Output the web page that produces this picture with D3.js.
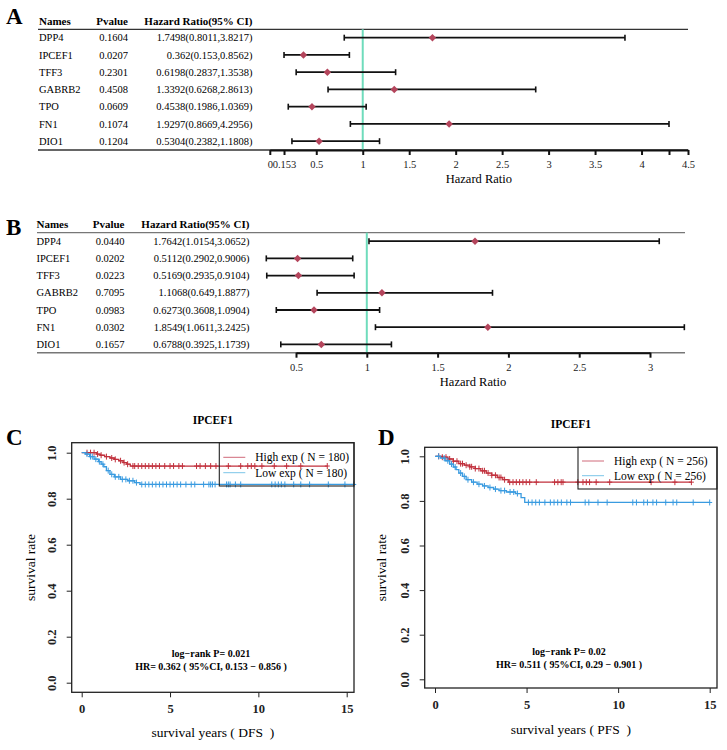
<!DOCTYPE html>
<html><head><meta charset="utf-8">
<script src="https://cdn.jsdelivr.net/npm/d3@7/dist/d3.min.js"></script>
<style>
body{margin:0;background:#fff;}
svg{display:block;font-family:"Liberation Serif","Times New Roman",serif;}
</style></head>
<body><svg id="c" width="727" height="750"></svg>
<script>
// ---------- Data: forest plot A (DFS, univariate) ----------
const genes = ["DPP4","IPCEF1","TFF3","GABRB2","TPO","FN1","DIO1"];
const pvalA = ["0.1604","0.0207","0.2301","0.4508","0.0609","0.1074","0.1204"];
const hrA = [1.7498,0.362,0.6198,1.3392,0.4538,1.9297,0.5304];
const lowA = [0.8011,0.153,0.2837,0.6268,0.1986,0.8669,0.2382];
const upA = [3.8217,0.8562,1.3538,2.8613,1.0369,4.2956,1.1808];
const hrTextA = ["1.7498(0.8011,3.8217)","0.362(0.153,0.8562)","0.6198(0.2837,1.3538)","1.3392(0.6268,2.8613)","0.4538(0.1986,1.0369)","1.9297(0.8669,4.2956)","0.5304(0.2382,1.1808)"];
const ticksA = [0,0.153,0.5,1,1.5,2,2.5,3,3.5,4,4.2956,4.5];
const tickLabelsA = ["0","0.153","0.5","1","1.5","2","2.5","3","3.5","4","","4.5"];
// ---------- Data: forest plot B (PFS) ----------
const pvalB = ["0.0440","0.0202","0.0223","0.7095","0.0983","0.0302","0.1657"];
const hrB = [1.7642,0.5112,0.5169,1.1068,0.6273,1.8549,0.6788];
const lowB = [1.0154,0.2902,0.2935,0.649,0.3608,1.0611,0.3925];
const upB = [3.0652,0.9006,0.9104,1.8877,1.0904,3.2425,1.1739];
const hrTextB = ["1.7642(1.0154,3.0652)","0.5112(0.2902,0.9006)","0.5169(0.2935,0.9104)","1.1068(0.649,1.8877)","0.6273(0.3608,1.0904)","1.8549(1.0611,3.2425)","0.6788(0.3925,1.1739)"];
const ticksB = [0.5,1,1.5,2,2.5,3];
const tickLabelsB = ["0.5","1","1.5","2","2.5","3"];
// ---------- Data: KM C (DFS) ----------
const cHighT = [0,0.85,1.05,1.3,1.6,1.85,2.1,2.35,2.55,2.75];
const cHighS = [1,0.994,0.989,0.983,0.977,0.971,0.965,0.957,0.950,0.942];
const cHighEnd = 13.9;
const cHighCens = [0.3,0.5,0.7,0.9,1.1,1.4,1.7,1.9,2.2,2.4,2.6,2.9,3.0,3.2,3.4,3.6,3.8,4.0,4.2,4.4,4.7,5.0,5.2,5.5,5.7,6.5,6.7,7.0,7.3,7.6,8.3,9.0,9.4,9.6,9.8,10.2,10.9,11.6,12.4,13.9];
const cLowT = [0,0.2,0.45,0.7,0.95,1.1,1.25,1.4,1.6,1.85,2.2,2.6,3.0,3.3];
const cLowS = [1,0.994,0.983,0.972,0.961,0.950,0.939,0.922,0.906,0.895,0.884,0.878,0.870,0.862];
const cLowEnd = 15.4;
const cLowCens = [0.3,0.5,0.6,0.8,1.0,1.2,1.5,1.7,1.9,2.1,2.3,2.5,2.7,2.9,3.1,3.4,3.6,3.8,4.0,4.2,4.4,4.6,4.8,5.0,5.2,5.4,5.6,5.9,6.2,6.4,6.9,7.2,7.3,7.4,7.55,8.2,8.3,8.4,8.7,9.0,10.76,10.95,11.13,11.3,11.5,12.0,12.4,12.9,13.96,14.9,15.4];
// ---------- Data: KM D (PFS) ----------
const dHighT = [0,0.4,0.7,1.0,1.3,1.6,1.9,2.2,2.5,2.8,3.1,3.4,3.7,4.0];
const dHighS = [1,0.996,0.988,0.978,0.967,0.96,0.953,0.945,0.935,0.925,0.915,0.905,0.895,0.884];
const dHighEnd = 14.0;
const dHighCens = [0.2,0.4,0.6,0.8,1.0,1.2,1.4,1.5,1.7,1.9,2.0,2.2,2.4,2.6,2.7,2.9,3.1,3.3,3.5,3.6,3.8,4.08,4.26,4.44,4.62,4.8,4.98,5.17,5.53,6.53,6.71,6.89,6.99,7.8,8.08,8.26,8.44,8.8,9.54,11.8,13.1,14.0];
const dLowT = [0,0.3,0.55,0.8,1.0,1.15,1.3,1.5,1.7,2.0,2.3,2.6,2.9,3.2,3.5,3.9,4.4,4.7,4.9];
const dLowS = [1,0.992,0.98,0.965,0.952,0.94,0.925,0.91,0.895,0.884,0.875,0.867,0.86,0.853,0.846,0.84,0.833,0.815,0.793];
const dLowEnd = 15.0;
const dLowCens = [0.2,0.5,0.7,0.9,1.1,1.4,1.6,1.8,2.1,2.4,2.7,3.0,3.3,3.6,3.8,4.1,4.3,4.5,5.1,5.3,5.5,5.7,6.0,6.3,6.5,6.7,6.9,7.2,7.4,8.2,8.4,8.9,9.4,10.8,11.0,11.4,11.6,11.9,12.1,12.6,13.0,13.2,14.1,15.0];
const survTicks = [0,0.2,0.4,0.6,0.8,1.0];
const yearTicks = [0,5,10,15];

const svg = d3.select("#c");
const RED = "#c1303c", BLUE = "#3a9be0", DIAM = "#b4455c", GREEN = "#6fdcbc";

function forest(o){
  const g = svg.append("g");
  const x = d3.scaleLinear().domain(o.domain).range(o.range);
  // header
  g.append("text").attr("x",o.colName).attr("y",o.headY).attr("dy","0.35em").attr("font-weight","bold").attr("font-size",11).text("Names");
  g.append("text").attr("x",o.colP).attr("y",o.headY).attr("dy","0.35em").attr("text-anchor","end").attr("font-weight","bold").attr("font-size",11).text("Pvalue");
  g.append("text").attr("x",o.colHR).attr("y",o.headY).attr("dy","0.35em").attr("text-anchor","end").attr("font-weight","bold").attr("font-size",11).text("Hazard Ratio(95% CI)");
  // lines
  g.append("line").attr("x1",o.lineL).attr("x2",o.lineR).attr("y1",o.topY).attr("y2",o.topY).attr("stroke",o.lineCol).attr("stroke-width",1.3);
  g.append("line").attr("x1",o.lineL).attr("x2",o.lineR).attr("y1",o.botY).attr("y2",o.botY).attr("stroke",o.lineCol).attr("stroke-width",1.6);
  // reference line
  g.append("line").attr("x1",x(1)).attr("x2",x(1)).attr("y1",o.topY).attr("y2",o.botY).attr("stroke",GREEN).attr("stroke-width",2);
  const rows = g.selectAll("g.row").data(genes.map((n,i)=>({n,i}))).join("g").attr("transform",d=>`translate(0,${o.row0+d.i*o.step})`);
  rows.append("text").attr("x",o.colName).attr("dy","0.35em").attr("font-size",10.5).text(d=>d.n);
  rows.append("text").attr("x",o.colP).attr("dy","0.35em").attr("text-anchor","end").attr("font-size",10.5).text(d=>o.pv[d.i]);
  rows.append("text").attr("x",o.colHR).attr("dy","0.35em").attr("text-anchor","end").attr("font-size",10.5).text(d=>o.txt[d.i]);
  rows.append("line").attr("x1",d=>x(o.lo[d.i])).attr("x2",d=>x(o.up[d.i])).attr("stroke","#111").attr("stroke-width",1.8);
  rows.append("line").attr("x1",d=>x(o.lo[d.i])).attr("x2",d=>x(o.lo[d.i])).attr("y1",-3).attr("y2",3).attr("stroke","#111").attr("stroke-width",1.6);
  rows.append("line").attr("x1",d=>x(o.up[d.i])).attr("x2",d=>x(o.up[d.i])).attr("y1",-3).attr("y2",3).attr("stroke","#111").attr("stroke-width",1.6);
  rows.append("path").attr("d",d3.symbol(d3.symbolSquare,28)()).attr("fill",DIAM)
    .attr("transform",d=>`translate(${x(o.hr[d.i])},0) rotate(45)`);
  // axis
  const ax = d3.axisBottom(x).tickValues(o.ticks).tickSize(5).tickSizeOuter(0).tickPadding(6)
    .tickFormat((d,i)=>o.tickLabels[i]);
  const ag = g.append("g").attr("transform",`translate(0,${o.botY})`).call(ax);
  ag.select(".domain").attr("stroke","#111").attr("stroke-width",2);
  ag.selectAll(".tick line").attr("stroke","#111").attr("stroke-width",2);
  ag.selectAll(".tick text").attr("font-family","Liberation Serif, serif").attr("font-size",10.5).attr("fill","#222");
  g.append("text").attr("x",(o.range[0]+o.range[1])/2).attr("y",o.labY).attr("text-anchor","middle").attr("font-size",12.5).text("Hazard Ratio");
}

forest({domain:[0,4.5],range:[269.8,688],colName:39,colP:128,colHR:252.5,headY:21,topY:29.3,botY:150,lineL:38,lineR:688,lineCol:"#333",
  row0:37.7,step:17.25,pv:pvalA,txt:hrTextA,hr:hrA,lo:lowA,up:upA,ticks:ticksA,tickLabels:tickLabelsA,labY:183});
forest({domain:[0.5,3],range:[296,650],colName:36.5,colP:124.5,colHR:249.5,headY:224,topY:232.7,botY:352.7,lineL:37,lineR:685,lineCol:"#777",
  row0:241.2,step:17.2,pv:pvalB,txt:hrTextB,hr:hrB,lo:lowB,up:upB,ticks:ticksB,tickLabels:tickLabelsB,labY:386});

function km(o){
  const g = svg.append("g");
  const x = d3.scaleLinear().domain([0,15]).range(o.xr);
  const y = d3.scaleLinear().domain([0,1]).range(o.yr);
  const cx = (o.box[0]+o.box[2])/2;
  g.append("text").attr("x",cx).attr("y",o.titleY).attr("text-anchor","middle").attr("font-weight","bold").attr("font-size",11.5).text("IPCEF1");
  const stepAt=(T,S,t)=>{let s=S[0];for(let i=0;i<T.length;i++){if(T[i]<=t)s=S[i];}return s;};
  const line = d3.line().x(d=>x(d[0])).y(d=>y(d[1])).curve(d3.curveStepAfter);
  o.series.forEach(se=>{
    const pts = se.t.map((t,i)=>[t,se.s[i]]); pts.push([se.end,se.s[se.s.length-1]]);
    g.append("path").attr("d",line(pts)).attr("fill","none").attr("stroke",se.col).attr("stroke-width",1.3);
    g.selectAll(null).data(se.cens).join("path")
      .attr("d",t=>{const px=x(t),py=y(stepAt(se.t,se.s,t));return `M${px-2.5},${py}H${px+2.5}M${px},${py-3}V${py+3}`;})
      .attr("stroke",se.col).attr("stroke-width",1);
  });
  // box
  g.append("rect").attr("x",o.box[0]).attr("y",o.box[1]).attr("width",o.box[2]-o.box[0]).attr("height",o.box[3]-o.box[1])
    .attr("fill","none").attr("stroke","#222").attr("stroke-width",1.3);
  // y axis
  const ya = g.append("g").attr("transform",`translate(${o.box[0]},0)`).call(d3.axisLeft(y).tickValues(survTicks).tickSize(5).tickFormat(d3.format(".1f")));
  ya.select(".domain").remove();
  ya.selectAll(".tick line").attr("stroke","#222");
  ya.selectAll(".tick text").attr("transform","translate(-16,0) rotate(-90)").attr("x",0).attr("y",0).attr("dy",0)
    .attr("text-anchor","middle").attr("font-family","Liberation Serif, serif").attr("font-weight","bold").attr("font-size",12.5).attr("fill","#222");
  // x axis
  const xa = g.append("g").attr("transform",`translate(0,${o.box[3]})`).call(d3.axisBottom(x).tickValues(yearTicks).tickSize(5).tickPadding(7));
  xa.select(".domain").remove();
  xa.selectAll(".tick line").attr("stroke","#222");
  xa.selectAll(".tick text").attr("font-family","Liberation Serif, serif").attr("font-weight","bold").attr("font-size",12.5).attr("fill","#222");
  g.append("text").attr("x",cx).attr("y",o.xlabY).attr("text-anchor","middle").attr("font-size",13.5).attr("xml:space","preserve").style("white-space","pre").text(o.xlab);
  g.append("text").attr("transform",`translate(${o.ylabX},${(o.box[1]+o.box[3])/2}) rotate(-90)`).attr("text-anchor","middle").attr("font-size",13.5).text("survival rate");
  // legend
  const L=o.leg;
  g.append("rect").attr("x",L[0]).attr("y",o.box[1]).attr("width",o.box[2]-L[0]).attr("height",L[1]-o.box[1]).attr("fill","none").attr("stroke","#222").attr("stroke-width",1.1);
  o.legItems.forEach((it,i)=>{
    const ly=L[2]+i*L[3];
    g.append("line").attr("x1",L[0]+4).attr("x2",L[0]+26).attr("y1",ly).attr("y2",ly).attr("stroke",it.col).attr("stroke-width",1);
    g.append("text").attr("x",L[0]+36).attr("y",ly).attr("dy","0.35em").attr("font-size",11.5).text(it.txt);
  });
  g.append("text").attr("x",o.annX).attr("y",o.annY).attr("text-anchor","middle").attr("font-weight","bold").attr("font-size",10).text(o.ann1);
  g.append("text").attr("x",o.annX).attr("y",o.annY+13).attr("text-anchor","middle").attr("font-weight","bold").attr("font-size",10).text(o.ann2);
}

km({xr:[81.7,346.7],yr:[682.7,452.7],box:[71.7,442.7,354,692.3],titleY:424,xlabY:737,ylabX:35,xlab:"survival years ( DFS  )",
  series:[{t:cHighT,s:cHighS,end:cHighEnd,cens:cHighCens,col:RED},{t:cLowT,s:cLowS,end:cLowEnd,cens:cLowCens,col:BLUE}],
  leg:[219.3,486,457.3,15.4],legItems:[{col:"#d06a7a",txt:"High exp ( N = 180)"},{col:"#7cc6e8",txt:"Low exp ( N = 180)"}],
  annX:211,annY:656.5,ann1:"log\u2212rank P= 0.021",ann2:"HR= 0.362 ( 95%CI, 0.153 \u2212 0.856 )"});
km({xr:[435,709.7],yr:[679.3,456.3],box:[424.7,447.3,717,688],titleY:428,xlabY:734,ylabX:386,xlab:"survival years ( PFS  )",
  series:[{t:dHighT,s:dHighS,end:dHighEnd,cens:dHighCens,col:RED},{t:dLowT,s:dLowS,end:dLowEnd,cens:dLowCens,col:BLUE}],
  leg:[578,489,461,14.7],legItems:[{col:"#d06a7a",txt:"High exp ( N = 256)"},{col:"#7cc6e8",txt:"Low exp ( N = 256)"}],
  annX:569,annY:655,ann1:"log\u2212rank P= 0.02",ann2:"HR= 0.511 ( 95%CI, 0.29 \u2212 0.901 )"});

// panel letters
[["A",6,24],["B",6,235],["C",6,445],["D",378,445]].forEach(d=>{
  svg.append("text").attr("x",d[1]).attr("y",d[2]).attr("font-weight","bold").attr("font-size",23).text(d[0]);
});
</script></body></html>
